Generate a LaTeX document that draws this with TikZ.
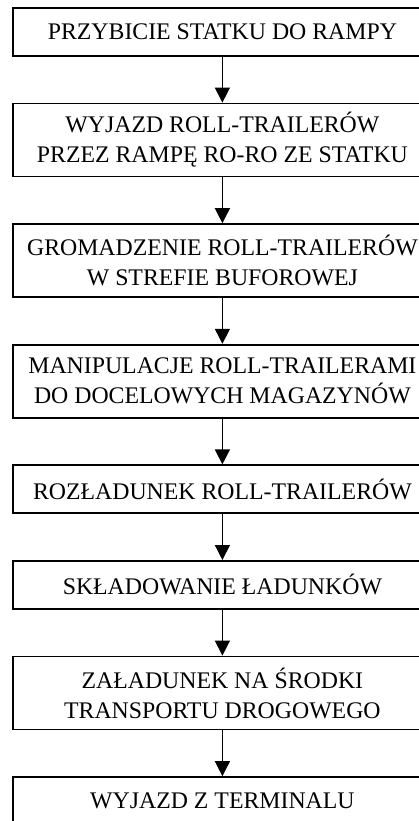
\documentclass[tikz,border=0pt]{standalone}
\usepackage{fontspec}
\setmainfont{Liberation Serif}
\usetikzlibrary{positioning}
\usetikzlibrary{arrows.meta}

\tikzset{
  etap/.style={draw, line width=1.8pt, minimum width=419pt, minimum height=48pt,
    align=center, inner sep=0pt, font=\fontsize{23.8}{30}\selectfont},
  etapdwa/.style={etap, minimum height=73pt},
  strz/.style={-{Triangle[width=15pt,length=15pt]}, line width=1.4pt}
}

\begin{document}
\begin{tikzpicture}[x=1pt, y=1pt, node distance=45.8pt]

      \useasboundingbox (0,0) rectangle (419,-821);

      \node[etap, anchor=north west] (a1) at (12,-7) {PRZYBICIE STATKU DO RAMPY};
      \node[etapdwa, below=of a1] (a2) {WYJAZD ROLL-TRAILERÓW\\PRZEZ RAMPĘ RO-RO ZE STATKU};
      \node[etapdwa, below=of a2] (a3) {GROMADZENIE ROLL-TRAILERÓW\\W STREFIE BUFOROWEJ};
      \node[etapdwa, below=of a3] (a4) {MANIPULACJE ROLL-TRAILERAMI\\DO DOCELOWYCH MAGAZYNÓW};
      \node[etap, below=of a4] (a5) {ROZŁADUNEK ROLL-TRAILERÓW};
      \node[etap, below=of a5] (a6) {SKŁADOWANIE ŁADUNKÓW};
      \node[etapdwa, below=of a6] (a7) {ZAŁADUNEK NA ŚRODKI\\TRANSPORTU DROGOWEGO};
      \node[etap, below=of a7] (a8) {WYJAZD Z TERMINALU};

      \foreach \i [count=\j from 2] in {1, ..., 7}
      \draw[strz] (a\i) -- (a\j);
    \end{tikzpicture}
\end{document}
